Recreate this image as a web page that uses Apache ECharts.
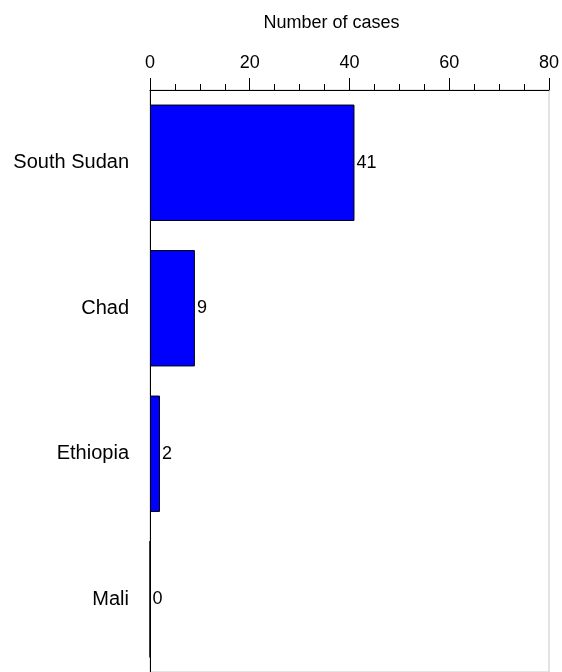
<!DOCTYPE html>
<html><head><meta charset="utf-8">
<script src="https://cdn.jsdelivr.net/npm/echarts@6/dist/echarts.min.js"></script>
<style>html,body{margin:0;padding:0;background:#fff}#c{width:562px;height:672px}</style>
</head><body><div id="c"></div>
<script>
const categories = ['South Sudan', 'Chad', 'Ethiopia', 'Mali'];
const cases = [41, 9, 2, 0];
const axisTitle = 'Number of cases';
const xMin = 0, xMax = 80, xStep = 20;

const chart = echarts.init(document.getElementById('c'), null, {renderer: 'canvas'});
const font = 'Arial, "Liberation Sans", sans-serif';
chart.setOption({
  animation: false,
  grid: {left: 150, right: 13, top: 90, height: 588, show: true, borderColor: '#c8c8c8', borderWidth: 1, backgroundColor: 'transparent'},
  xAxis: {
    type: 'value', position: 'top', min: xMin, max: xMax, interval: xStep,
    name: axisTitle, nameLocation: 'middle', nameGap: 58,
    nameTextStyle: {color: '#000', fontSize: 18, fontFamily: font, padding: [0, 36, 0, 0]},
    axisLine: {show: true, lineStyle: {color: '#000', width: 1}},
    axisTick: {show: true, length: 12, lineStyle: {color: '#000'}},
    minorTick: {show: true, splitNumber: 4, length: 6, lineStyle: {color: '#000'}},
    axisLabel: {color: '#000', fontSize: 18, fontFamily: font, margin: 18},
    splitLine: {show: false}
  },
  yAxis: {
    type: 'category', data: categories, inverse: true,
    axisLine: {show: true, lineStyle: {color: '#000', width: 1}},
    axisTick: {show: false},
    axisLabel: {color: '#000', fontSize: 20, fontFamily: font, margin: 21}
  },
  series: [{
    type: 'bar', data: cases, barCategoryGap: '20%',
    itemStyle: {color: '#0000ff', borderColor: '#000', borderWidth: 1},
    label: {show: true, position: 'right', distance: 2, color: '#000', fontSize: 18, fontFamily: font}
  }]
});
</script></body></html>
